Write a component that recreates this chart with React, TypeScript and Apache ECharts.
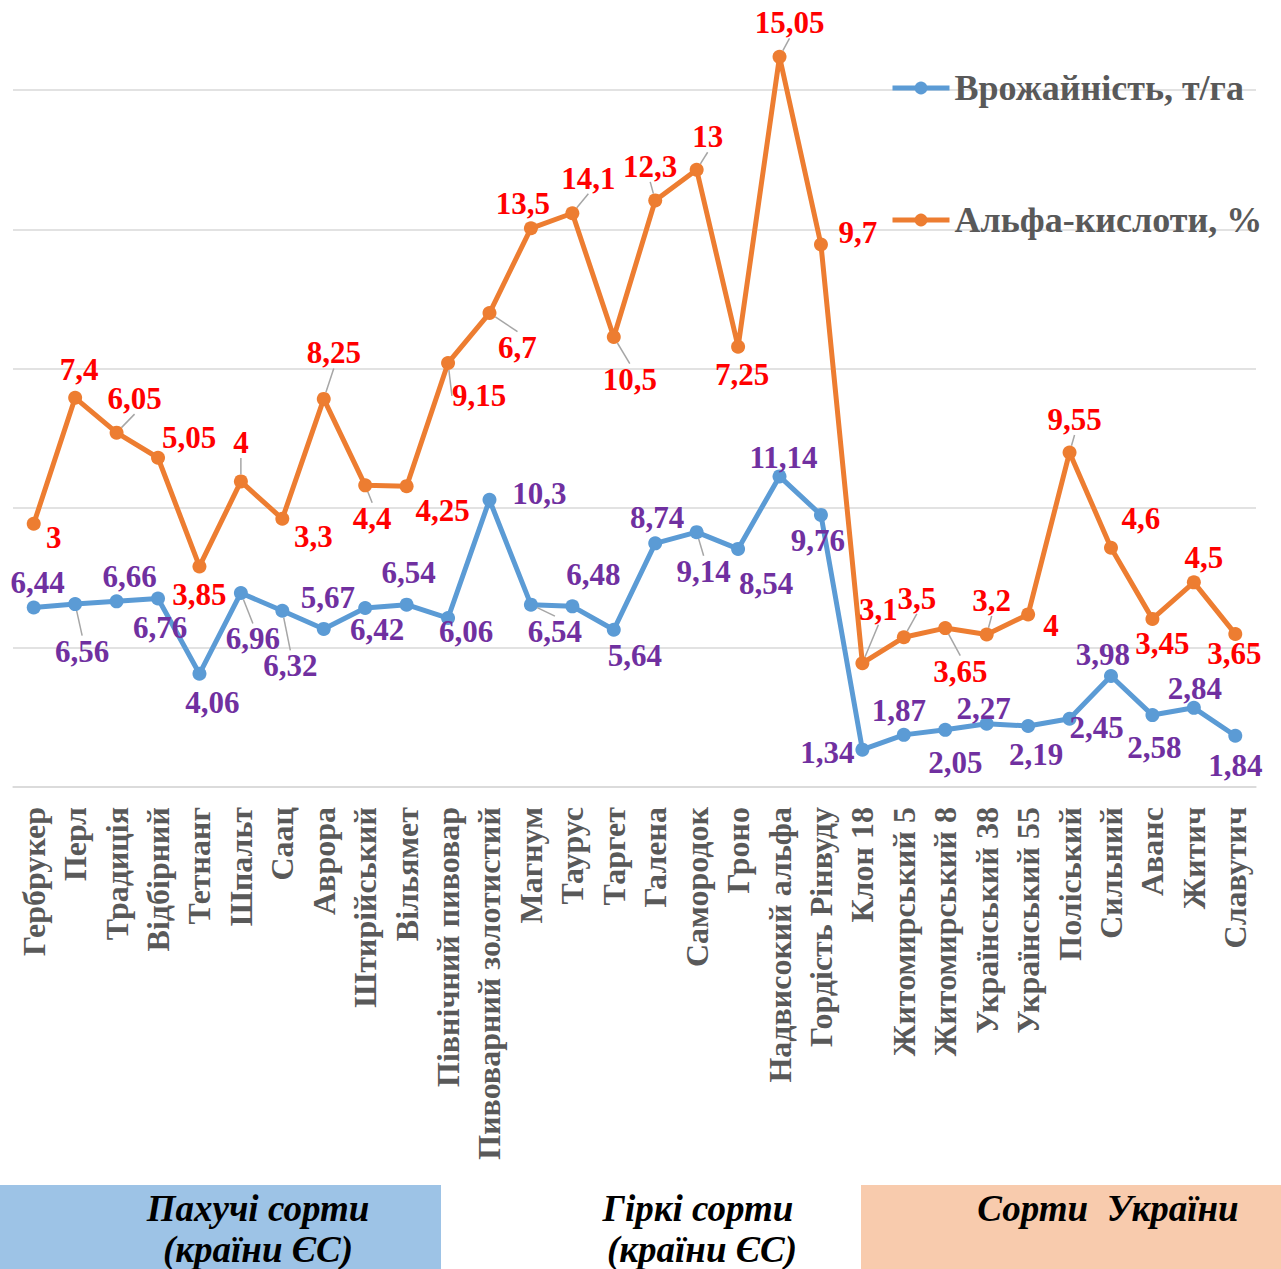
import React, { useEffect, useRef } from 'react';
import * as echarts from 'echarts';

const CATEGORIES = [
  'Гербрукер', 'Перл', 'Традиція', 'Відбірний', 'Тетнанг', 'Шпальт', 'Саац', 'Аврора',
  'Штирійський', 'Вільямет', 'Північний пивовар', 'Пивоварний золотистий', 'Магнум', 'Таурус',
  'Таргет', 'Галена', 'Самородок', 'Гроно', 'Надвисокий альфа', 'Гордість Рінвуду', 'Клон 18',
  'Житомирський 5', 'Житомирський 8', 'Український 38', 'Український 55', 'Поліський',
  'Сильний', 'Аванс', 'Житич', 'Славутич',
];

const YIELD_NAME = 'Врожайність, т/га';
const ALPHA_NAME = 'Альфа-кислоти, %';

const YIELD = [6.44, 6.56, 6.66, 6.76, 4.06, 6.96, 6.32, 5.67, 6.42, 6.54, 6.06, 10.3, 6.54, 6.48, 5.64,
  8.74, 9.14, 8.54, 11.14, 9.76, 1.34, 1.87, 2.05, 2.27, 2.19, 2.45, 3.98, 2.58, 2.84, 1.84];

const ALPHA = [3, 7.4, 6.05, 5.05, 3.85, 4, 3.3, 8.25, 4.4, 4.25, 9.15, 6.7, 13.5, 14.1, 10.5,
  12.3, 13, 7.25, 15.05, 9.7, 3.1, 3.5, 3.65, 3.2, 4, 9.55, 4.6, 3.45, 4.5, 3.65];

// label placement (offset of label centre from its point, px) – layout only
const YIELD_LABEL_OFFSETS = [
  [4, -25], [7, 47], [13, -25], [2, 29], [13, 29], [12, 46], [8, 55], [4, -31], [12, 21], [2, -32],
  [18, 13], [50, -6], [24, 27], [21, -32], [21, 26], [2, -26], [7, 39], [28, 35], [4, -19], [-3, 26],
  [-35, 3], [-5, -24], [10, 33], [-3, -15], [8, 29], [27, 9], [-8, -22], [2, 32], [1, -19], [0, 30],
];
const ALPHA_LABEL_OFFSETS = [
  [20, 14], [4, -28], [18, -34], [31, -20], [0, 28], [0, -39], [31, 18], [10, -46], [7, 33], [36, 24],
  [31, 33], [28, 34], [-8, -25], [16, -35], [16, 42], [-5, -34], [11, -33], [4, 28], [10, -34], [37, -12],
  [16, -54], [13, -39], [15, 43], [5, -34], [23, 11], [5, -33], [30, -29], [10, 25], [10, -25], [-1, 20],
];
const YIELD_LEADERS = [1, 5, 6, 12, 16];
const ALPHA_LEADERS = [2, 5, 7, 8, 10, 11, 13, 14, 15, 16, 18, 20, 21, 22, 23, 25];

const SERIF = '"Liberation Serif", "Times New Roman", serif';

const fmt = (p: any) => String(p.value).replace('.', ',');

export default function App() {
  const ref = useRef<HTMLDivElement>(null);

  useEffect(() => {
    if (!ref.current) return;
    const chart = echarts.init(ref.current, null, { renderer: 'svg' });

    const mkData = (vals: number[], leaders: number[]) =>
      vals.map((v, i) => ({ value: v, labelLine: { show: leaders.includes(i) } }));

    const mkSeries = (name: string, vals: number[], color: string, labelColor: string,
      offsets: number[][], leaders: number[]) => ({
      name,
      type: 'line',
      stack: 'total',
      data: mkData(vals, leaders),
      symbol: 'circle',
      symbolSize: 14,
      clip: false,
      lineStyle: { color, width: 5 },
      itemStyle: { color },
      emphasis: { disabled: true },
      label: {
        show: true,
        position: 'inside',
        formatter: fmt,
        color: labelColor,
        fontFamily: SERIF,
        fontWeight: 'bold',
        fontSize: 31,
        textBorderWidth: 0,
      },
      labelLine: { show: false, lineStyle: { color: '#a6a6a6', width: 1.5 } },
      labelLayout: (params: any) => ({
        dx: offsets[params.dataIndex][0],
        dy: offsets[params.dataIndex][1],
      }),
    });

    chart.setOption({
      animation: false,
      textStyle: { fontFamily: SERIF },
      grid: { left: 13, right: 25, top: 90, bottom: 482, containLabel: false },
      legend: {
        orient: 'vertical',
        left: 890,
        top: 70,
        padding: 0,
        itemGap: 96,
        itemWidth: 57,
        itemHeight: 16,
        selectedMode: false,
        lineStyle: { width: 5 },
        textStyle: { fontSize: 36, fontWeight: 'bold', color: '#595959', fontFamily: SERIF },
        data: [YIELD_NAME, ALPHA_NAME],
      },
      xAxis: {
        type: 'category',
        data: CATEGORIES,
        boundaryGap: true,
        axisLine: { lineStyle: { color: '#d9d9d9', width: 1.5 } },
        axisTick: { show: false },
        axisLabel: {
          interval: 0,
          rotate: 90,
          margin: 20,
          fontSize: 32,
          fontWeight: 'bold',
          color: '#595959',
          fontFamily: SERIF,
        },
      },
      yAxis: {
        type: 'value',
        min: 0,
        max: 25,
        interval: 5,
        axisLabel: { show: false },
        axisLine: { show: false },
        axisTick: { show: false },
        splitLine: { lineStyle: { color: '#d9d9d9', width: 1.5 } },
      },
      graphic: [
        { type: 'rect', shape: { x: 0, y: 1185, width: 441, height: 84 }, style: { fill: '#9dc3e6' } },
        { type: 'rect', shape: { x: 861, y: 1185, width: 420, height: 84 }, style: { fill: '#f8cbad' } },
        { type: 'text', x: 258, y: 1208, style: { text: 'Пахучі сорти', fill: '#000', textAlign: 'center', textVerticalAlign: 'middle', font: `italic bold 37px ${SERIF}` } },
        { type: 'text', x: 258, y: 1249, style: { text: '(країни ЄС)', fill: '#000', textAlign: 'center', textVerticalAlign: 'middle', font: `italic bold 37px ${SERIF}` } },
        { type: 'text', x: 698, y: 1208, style: { text: 'Гіркі сорти', fill: '#000', textAlign: 'center', textVerticalAlign: 'middle', font: `italic bold 37px ${SERIF}` } },
        { type: 'text', x: 702, y: 1249, style: { text: '(країни ЄС)', fill: '#000', textAlign: 'center', textVerticalAlign: 'middle', font: `italic bold 37px ${SERIF}` } },
        { type: 'text', x: 1108, y: 1208, style: { text: 'Сорти  України', fill: '#000', textAlign: 'center', textVerticalAlign: 'middle', font: `italic bold 37px ${SERIF}` } },
      ],
      series: [
        mkSeries(YIELD_NAME, YIELD, '#5b9bd5', '#7030a0', YIELD_LABEL_OFFSETS, YIELD_LEADERS),
        mkSeries(ALPHA_NAME, ALPHA, '#ed7d31', '#ff0000', ALPHA_LABEL_OFFSETS, ALPHA_LEADERS),
      ],
    });

    return () => chart.dispose();
  }, []);

  return (
    <div
      ref={ref}
      style={{ position: 'absolute', left: 0, top: 0, width: 1281, height: 1269, background: '#fff' }}
    />
  );
}
